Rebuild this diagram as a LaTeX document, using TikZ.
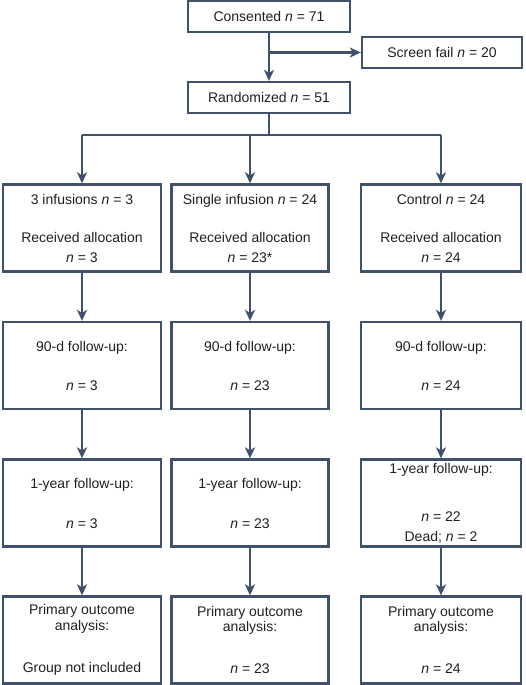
\documentclass[tikz,border=0pt]{standalone}
\usepackage{fontspec}
\setmainfont{Liberation Sans}
\usetikzlibrary{arrows.meta}
\definecolor{linec}{HTML}{41516B}
\definecolor{textc}{HTML}{231F20}
\newcommand{\nn}{\textit{n}}
\begin{document}
\begin{tikzpicture}[x=1pt,y=1pt,
  flowbox/.style={draw=linec, line width=2.3pt, align=center, inner sep=0pt,
    font=\fontsize{14}{17}\selectfont, text=textc},
  smallbox/.style={flowbox, minimum width=162pt, minimum height=31pt},
  colbox/.style={flowbox, minimum height=87pt},
  conn/.style={draw=linec, line width=2.3pt},
  arr/.style={conn, -{Stealth[length=11pt,width=10pt,inset=3pt]}}
]
\useasboundingbox (0,0) rectangle (525,-685);

% top part
\node[smallbox] (cons) at (269,-16.5) {Consented \nn{} = 71};
\node[smallbox, minimum width=160pt] (fail) at (442,-52.5) {Screen fail \nn{} = 20};
\node[smallbox] (rand) at (269,-97.5) {Randomized \nn{} = 51};
\coordinate (branch) at (cons.south |- fail.west);
\draw[arr] (cons.south) -- (rand.north);
\draw[arr] (branch) -- (fail.west);

% row 1
\node[colbox, minimum width=158pt] (a1) at (82,-228)
  {3 infusions \nn{} = 3\\[21pt]Received allocation\\[3pt]\nn{} = 3};
\node[colbox, minimum width=157pt] (b1) at (250,-228)
  {Single infusion \nn{} = 24\\[21pt]Received allocation\\[3pt]\nn{} = 23*};
\node[colbox, minimum width=160pt] (c1) at (441,-228)
  {Control \nn{} = 24\\[21pt]Received allocation\\[3pt]\nn{} = 24};

% row 2
\node[colbox, minimum width=158pt] (a2) at (82,-365.5)
  {90-d follow-up:\\[22pt]\nn{} = 3};
\node[colbox, minimum width=157pt] (b2) at (250,-365.5)
  {90-d follow-up:\\[22pt]\nn{} = 23};
\node[colbox, minimum width=160pt] (c2) at (441,-365.5)
  {90-d follow-up:\\[22pt]\nn{} = 24};

% row 3
\node[colbox, minimum width=158pt] (a3) at (82,-503)
  {1-year follow-up:\\[23pt]\nn{} = 3};
\node[colbox, minimum width=157pt] (b3) at (250,-503)
  {1-year follow-up:\\[23pt]\nn{} = 23};
\node[colbox, minimum width=160pt] (c3) at (441,-503)
  {1-year follow-up:\\[31pt]\nn{} = 22\\[3pt]Dead; \nn{} = 2};

% row 4
\node[colbox, minimum width=158pt] (a4) at (82,-640)
  {Primary outcome\\[-1.5pt]analysis:\\[25pt]Group not included};
\node[colbox, minimum width=157pt] (b4) at (250,-640)
  {Primary outcome\\[-1.5pt]analysis:\\[25pt]\nn{} = 23};
\node[colbox, minimum width=160pt] (c4) at (441,-640)
  {Primary outcome\\[-1.5pt]analysis:\\[25pt]\nn{} = 24};

% split
\coordinate (split) at (269,-135);
\draw[conn] (rand.south) -- (split);
\draw[conn] (a1.north |- split) -- (c1.north |- split);
\draw[arr] (a1.north |- split) -- (a1.north);
\draw[arr] (b1.north |- split) -- (b1.north);
\draw[arr] (c1.north |- split) -- (c1.north);

% columns
\foreach \col in {a,b,c}{
  \draw[arr] (\col1.south) -- (\col2.north);
  \draw[arr] (\col2.south) -- (\col3.north);
  \draw[arr] (\col3.south) -- (\col4.north);
}
\end{tikzpicture}
\end{document}
